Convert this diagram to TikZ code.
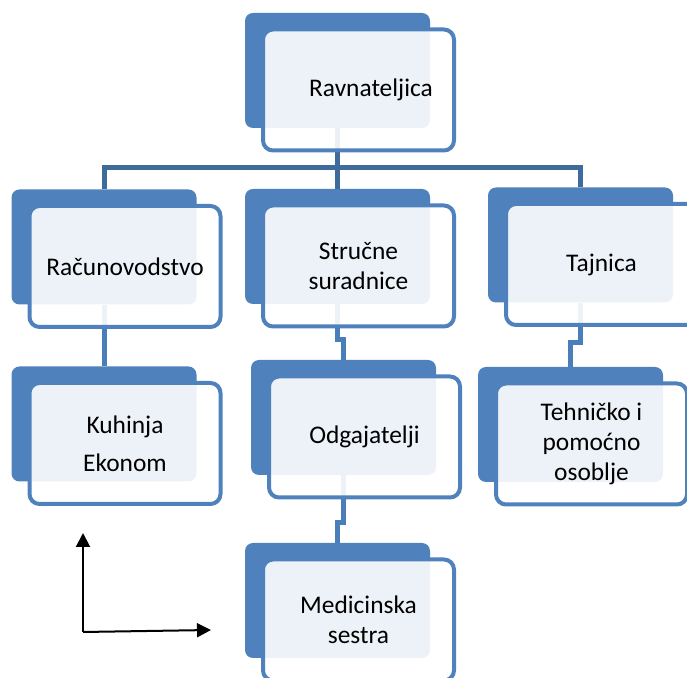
\documentclass[tikz,border=0pt]{standalone}
\usepackage{fontspec}
\setmainfont{Carlito}
\usetikzlibrary{arrows.meta,positioning}
\definecolor{boxblue}{HTML}{4F81BD}
\definecolor{topblue}{HTML}{3E6A9C}
\definecolor{subblue}{HTML}{4A7EBB}
\begin{document}
\begin{tikzpicture}[x=0.5pt, y=-0.5pt, font=\fontsize{12.7}{15}\selectfont,
back node/.style={rectangle,fill=boxblue,rounded corners=4pt,minimum width=92.5pt,minimum height=57.5pt,inner sep=0pt},
front node/.style={rectangle,draw=boxblue,line width=2pt,fill=white,fill opacity=0.9,text opacity=1,rounded corners=5pt,minimum width=95.5pt,minimum height=60.5pt,inner sep=2pt,align=center},
top line/.style={draw=topblue,line width=2.5pt},
sub line/.style={draw=subblue,line width=2.5pt},
axis/.style={draw=black,line width=1pt,-{Triangle[length=7pt,width=7pt]}}]
\useasboundingbox (0,0) rectangle (687,678);
\begin{scope}
\node[back node] (ravB) at (337.5,70.5) {};
\node[back node] (racB) at (104,247) {};
\node[back node] (strB) at (337.5,246.5) {};
\node[back node] (tajB) at (580.5,245) {};
\node[back node] (kuhB) at (104,424) {};
\node[back node] (odgB) at (343.5,417.5) {};
\node[back node] (tehB) at (570.5,424.5) {};
\node[back node] (medB) at (337.5,600.5) {};
\end{scope}
\begin{scope}
\coordinate (bus) at (337.5,167.5);
\draw[top line] (ravB.south) -- (bus);
\draw[top line] (racB.north) |- (bus);
\draw[top line] (tajB.north) |- (bus);
\draw[top line] (strB.north) -- (bus);
\draw[sub line] (racB.south) -- (kuhB.north);
\draw[sub line] (strB.south) -- ++(0,35) -| (odgB.north);
\draw[sub line] (tajB.south) -- ++(0,40) -| (tehB.north);
\draw[sub line] (odgB.south) -- ++(0,47) -| (medB.north);
\end{scope}
\begin{scope}
\node[front node] (ravF) at ([shift={(21,19.5)}]ravB) {\hspace{12.5pt}Ravnateljica};
\node[front node] (racF) at ([shift={(21,19.5)}]racB) {Računovodstvo};
\node[front node] (strF) at ([shift={(21,19.5)}]strB) {Stručne\\suradnice};
\node[front node] (tajF) at ([shift={(21,19.5)}]tajB) {Tajnica};
\node[front node] (kuhF) at ([shift={(21,19.5)}]kuhB) {Kuhinja\\[4pt]Ekonom};
\node[front node] (odgF) at ([shift={(21,19.5)}]odgB) {Odgajatelji};
\node[front node] (tehF) at ([shift={(21,19.5)}]tehB) {Tehničko i\\pomoćno\\osoblje};
\node[front node] (medF) at ([shift={(21,19.5)}]medB) {Medicinska\\sestra};
\end{scope}
% axes
\coordinate (origin) at (83,632);
\coordinate (ytip) at (83,533);
\coordinate (xtip) at (211,630);
\draw[axis] (origin) -- (ytip);
\draw[axis] (origin) -- (xtip);
\end{tikzpicture}
\end{document}
